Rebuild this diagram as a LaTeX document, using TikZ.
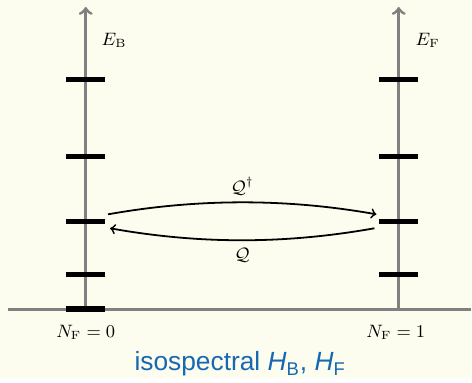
\documentclass[tikz,border=0pt]{standalone}
\usepackage{fontspec}
\newfontfamily\capfont{Liberation Sans}
\definecolor{paper}{RGB}{253,253,239}
\definecolor{capblue}{RGB}{22,104,178}
\definecolor{axisgray}{RGB}{128,128,128}

\begin{document}
\begin{tikzpicture}[x=0.5pt, y=-0.5pt, every node/.style={font=\small},
    axis/.style={draw=axisgray, line width=1.5pt},
    level/.style={fill=black, minimum width=19.5pt, minimum height=2.6pt, inner sep=0pt},
    trans/.style={->, line width=0.9pt}]

    % background
    \fill[paper] (0,0) rectangle (472,379);

    % axes
    \draw[axis] (8,310) -- (472,310);
    \draw[axis, ->] (86,310) -- (86,7);
    \draw[axis, ->] (400,310) -- (400,7);

    % energy levels
    \foreach \y [count=\i] in {80,157,222,275} {
        \node[level] (b\i) at (86,\y) {};
        \node[level] (f\i) at (400,\y) {};
    }
    \node[level] (b0) at (86,310) {};

    % axis labels
    \node[anchor=west] (eb) at (95,40) {$E_{\mathrm{B}}$};
    \node[anchor=west] (ef) at (410,40) {$E_{\mathrm{F}}$};
    \node (nf0) at (86,333) {$N_{\mathrm{F}} = 0$};
    \node (nf1) at (397,333) {$N_{\mathrm{F}} = 1$};

    % Q dagger
    \draw[trans] ([shift={(2.5,-7)}]b3.east) .. controls +(90,-16) and +(-90,-16) .. ([shift={(-2.5,-7)}]f3.west)
        node[midway, above] (qd) {$\mathcal{Q}^\dagger$};

    % Q
    \draw[trans] ([shift={(-4.5,7)}]f3.west) .. controls +(-90,16) and +(90,16) .. ([shift={(4.5,7)}]b3.east)
        node[midway, below] (q) {$\mathcal{Q}$};

    % caption
    \node[font=\capfont\fontsize{13.2}{15}\selectfont, text=capblue] (cap) at (241,365)
        {isospectral \textit{H}\textsubscript{B}, \textit{H}\textsubscript{F}};

\end{tikzpicture}
\end{document}
